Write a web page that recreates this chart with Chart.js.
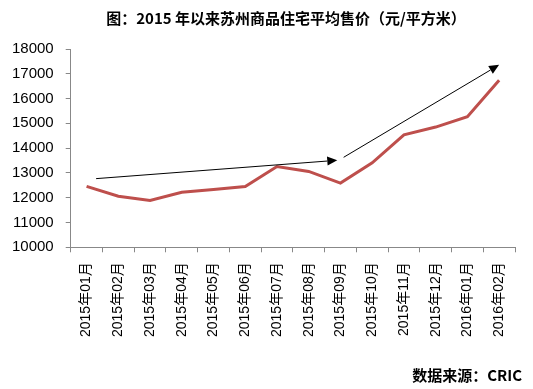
<!DOCTYPE html>
<html>
<head>
<meta charset="utf-8">
<script src="https://cdn.jsdelivr.net/npm/chart.js@4.4.0/dist/chart.umd.min.js"></script>
<style>
  html, body { margin: 0; padding: 0; background: #fff; }
  #wrap { width: 533px; height: 389px; }
</style>
</head>
<body>
<div id="wrap"><canvas id="priceChart"></canvas></div>
<script>
var months = ["2015年01月", "2015年02月", "2015年03月", "2015年04月", "2015年05月", "2015年06月",
    "2015年07月", "2015年08月", "2015年09月", "2015年10月", "2015年11月", "2015年12月",
    "2016年01月", "2016年02月"];
var avgPrice = [12460, 12060, 11890, 12220, 12330, 12450, 13260, 13060, 12590, 13410, 14540, 14850, 15270, 16740];

// trend arrows: [category index, value] pairs
var arrowFrom = [[0.3, 12770], [8.1, 13630]];
var arrowTo = [[7.9, 13510], [13.0, 17360]];

var titleText = "图：2015 年以来苏州商品住宅平均售价（元/平方米）";
var sourceText = "数据来源：CRIC";

var cjkFont = '"Liberation Sans", "Noto Sans CJK SC", sans-serif';

var extrasPlugin = {
    id: 'extras',
    afterDatasetsDraw: function(chart) {
        var ctx = chart.ctx;
        var xs = chart.scales.x, ys = chart.scales.y;
        ctx.save();
        ctx.strokeStyle = '#000';
        ctx.fillStyle = '#000';
        ctx.lineWidth = 1;
        for (var i = 0; i < arrowFrom.length; i++) {
            var x1 = xs.getPixelForValue(arrowFrom[i][0]);
            var y1 = ys.getPixelForValue(arrowFrom[i][1]);
            var x2 = xs.getPixelForValue(arrowTo[i][0]);
            var y2 = ys.getPixelForValue(arrowTo[i][1]);
            var ang = Math.atan2(y2 - y1, x2 - x1);
            var head = 10;
            ctx.beginPath();
            ctx.moveTo(x1, y1);
            ctx.lineTo(x2 - head * Math.cos(ang), y2 - head * Math.sin(ang));
            ctx.stroke();
            ctx.beginPath();
            ctx.moveTo(x2, y2);
            ctx.lineTo(x2 - head * Math.cos(ang) + 4.5 * Math.sin(ang), y2 - head * Math.sin(ang) - 4.5 * Math.cos(ang));
            ctx.lineTo(x2 - head * Math.cos(ang) - 4.5 * Math.sin(ang), y2 - head * Math.sin(ang) + 4.5 * Math.cos(ang));
            ctx.closePath();
            ctx.fill();
        }
        ctx.restore();
    },
    afterDraw: function(chart) {
        var ctx = chart.ctx;
        ctx.save();
        ctx.fillStyle = '#000';
        ctx.textBaseline = 'middle';
        ctx.font = 'bold 15px "Noto Sans CJK SC", sans-serif';
        ctx.textAlign = 'center';
        ctx.fillText(titleText, 286, 18);
        ctx.textAlign = 'right';
        ctx.fillText(sourceText, 522, 375);
        ctx.restore();
    }
};

var ctx = document.querySelector("#priceChart").getContext("2d");

var lineChart = new Chart(ctx, {
    type: 'line',
    data: {
        labels: months,
        datasets: [
            {
                label: "平均售价",
                data: avgPrice,
                borderColor: "#BE4F4C",
                borderWidth: 3,
                pointRadius: 0,
                tension: 0,
                fill: false
            }
        ]
    },
    options: {
        responsive: true,
        maintainAspectRatio: false,
        animation: false,
        layout: {
            padding: { top: 49, left: 0, right: 18, bottom: 42 }
        },
        plugins: {
            legend: { display: false },
            tooltip: { enabled: false }
        },
        scales: {
            x: {
                offset: true,
                grid: {
                    offset: true,
                    drawOnChartArea: false,
                    drawTicks: true,
                    tickLength: 5,
                    color: '#888'
                },
                border: { color: '#888' },
                ticks: {
                    minRotation: 90,
                    maxRotation: 90,
                    autoSkip: false,
                    padding: 10,
                    color: '#000',
                    font: { size: 14, family: cjkFont }
                }
            },
            y: {
                min: 10000,
                max: 18000,
                grid: {
                    drawOnChartArea: false,
                    drawTicks: true,
                    tickLength: 5,
                    color: '#888'
                },
                border: { color: '#888' },
                ticks: {
                    stepSize: 1000,
                    padding: 12,
                    color: '#000',
                    font: { size: 15, family: cjkFont },
                    callback: function(value) { return String(value); }
                }
            }
        }
    },
    plugins: [extrasPlugin]
});
</script>
</body>
</html>
